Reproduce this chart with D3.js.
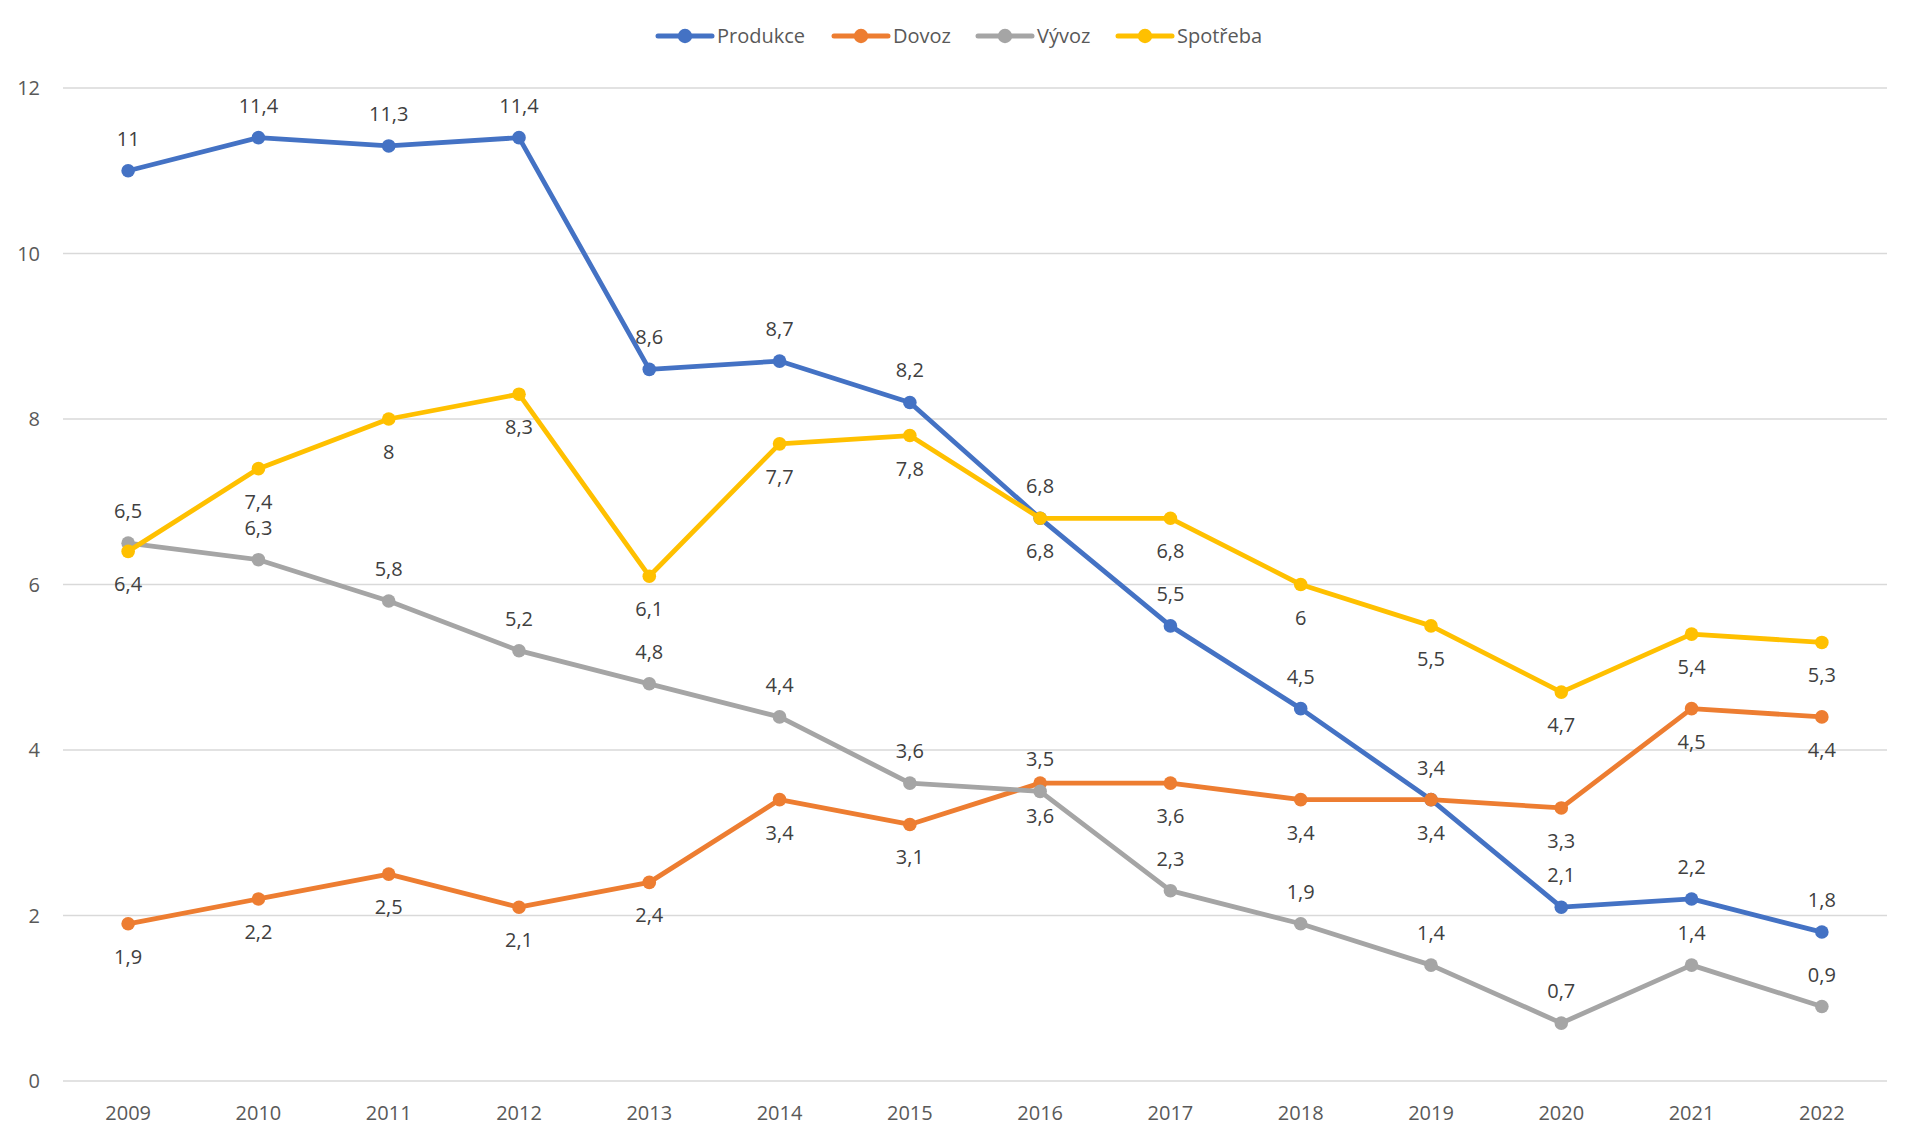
<!DOCTYPE html>
<html><head><meta charset="utf-8">
<script src="https://cdn.jsdelivr.net/npm/d3@7"></script>
<style>body{margin:0;background:#fff;}svg{display:block;font-family:"Open Sans",sans-serif;}</style>
</head><body><svg id="c" width="1920" height="1147"></svg>
<script>
const years = ["2009","2010","2011","2012","2013","2014","2015","2016","2017","2018","2019","2020","2021","2022"];
const produkce = [11,11.4,11.3,11.4,8.6,8.7,8.2,6.8,5.5,4.5,3.4,2.1,2.2,1.8];
const dovoz = [1.9,2.2,2.5,2.1,2.4,3.4,3.1,3.6,3.6,3.4,3.4,3.3,4.5,4.4];
const vyvoz = [6.5,6.3,5.8,5.2,4.8,4.4,3.6,3.5,2.3,1.9,1.4,0.7,1.4,0.9];
const spotreba = [6.4,7.4,8,8.3,6.1,7.7,7.8,6.8,6.8,6,5.5,4.7,5.4,5.3];
const yTicks = [0,2,4,6,8,10,12];
const series = [
  {name:"Produkce", values:produkce, color:"#4472C4", pos:"above"},
  {name:"Dovoz", values:dovoz, color:"#ED7D31", pos:"below"},
  {name:"Vývoz", values:vyvoz, color:"#A5A5A5", pos:"above"},
  {name:"Spotřeba", values:spotreba, color:"#FFC000", pos:"below"}
];
const svg = d3.select("#c");
const x = d3.scaleBand().domain(years).range([63,1887]);
const y = d3.scaleLinear().domain([0,12]).range([1081,88]);
const fmt = v => String(v).replace(".", ",");

svg.append("g").selectAll("line").data(yTicks).join("line")
  .attr("x1",63).attr("x2",1887).attr("y1",d=>y(d)).attr("y2",d=>y(d))
  .attr("stroke","#D9D9D9").attr("stroke-width",1.3);
svg.append("g").selectAll("text").data(yTicks).join("text")
  .attr("x",40).attr("y",d=>y(d)).attr("dy","0.35em").attr("text-anchor","end")
  .attr("font-size",20).attr("fill","#595959").text(d=>d);
svg.append("g").selectAll("text").data(years).join("text")
  .attr("x",d=>x(d)+x.bandwidth()/2).attr("y",1113).attr("dy","0.35em").attr("text-anchor","middle")
  .attr("font-size",20).attr("fill","#595959").text(d=>d);

const line = d3.line().x((d,i)=>x(years[i])+x.bandwidth()/2).y(d=>y(d));
series.forEach(s=>{
  const g = svg.append("g");
  g.append("path").attr("d",line(s.values)).attr("fill","none").attr("stroke",s.color)
    .attr("stroke-width",4.8).attr("stroke-linejoin","round").attr("stroke-linecap","round");
  g.selectAll("circle").data(s.values).join("circle")
    .attr("cx",(d,i)=>x(years[i])+x.bandwidth()/2).attr("cy",d=>y(d)).attr("r",6.8).attr("fill",s.color);
});
series.forEach(s=>{
  svg.append("g").selectAll("text").data(s.values).join("text")
    .attr("x",(d,i)=>x(years[i])+x.bandwidth()/2)
    .attr("y",d=>y(d)+(s.pos==="above"?-32:33)).attr("dy","0.35em").attr("text-anchor","middle")
    .attr("font-size",20).attr("fill","#404040").text(d=>fmt(d));
});

const legX = [658,834,978,1118];
const lg = svg.append("g");
series.forEach((s,i)=>{
  const lx = legX[i], ly = 36;
  lg.append("line").attr("x1",lx).attr("x2",lx+54).attr("y1",ly).attr("y2",ly)
    .attr("stroke",s.color).attr("stroke-width",5).attr("stroke-linecap","round");
  lg.append("circle").attr("cx",lx+27).attr("cy",ly).attr("r",7.2).attr("fill",s.color);
  lg.append("text").attr("x",lx+59).attr("y",ly).attr("dy","0.35em")
    .attr("font-size",20).attr("fill","#595959").text(s.name);
});
</script></body></html>
